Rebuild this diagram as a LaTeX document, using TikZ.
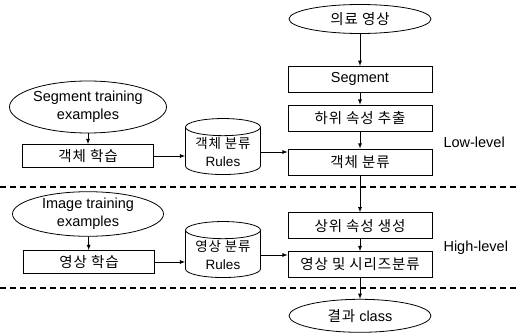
\documentclass[tikz,border=0pt]{standalone}
\usepackage{fontspec}
\setmainfont{Liberation Sans}
\newfontfamily\kr[LetterSpace=6]{Noto Sans CJK KR}
\usetikzlibrary{shapes.geometric, positioning}

\begin{document}
\begin{tikzpicture}[
          x=1pt, y=-1pt,   % pixel-like units, y downwards
          every node/.style={font=\fontsize{14.5}{18}\selectfont, align=center},
          stepbox/.style={rectangle, draw, thick, minimum width=144pt, minimum height=26pt, inner sep=1pt},
          learnbox/.style={rectangle, draw, thick, minimum width=131pt, minimum height=23pt, inner sep=1pt},
          oval/.style={ellipse, draw, thick, inner sep=0pt},
          rulebase/.style={cylinder, draw, thick, shape border rotate=90, aspect=0.3, minimum width=75pt, minimum height=56pt, inner sep=1pt, font=\fontsize{13.5}{18}\selectfont},
          level/.style={dashed, line width=1.1pt, dash pattern=on 6pt off 4pt},
          flow/.style={draw, thick, -latex}
        ]
        \useasboundingbox (0,0) rectangle (516,334);
        % main processing column
        \node[oval, minimum width=142pt, minimum height=29pt] (input) at (360,19) {\kr 의료 영상};
        \node[stepbox, below=32pt of input] (segment) {Segment};
        \node[stepbox, below=12pt of segment] (lowfeat) {\kr 하위 속성 추출};
        \node[stepbox, below=17pt of lowfeat] (objclass) {\kr 객체 분류};
        \node[stepbox, below=37pt of objclass] (highfeat) {\kr 상위 속성 생성};
        \node[stepbox, below=12pt of highfeat] (imgclass) {\kr 영상 및 시리즈분류};
        \node[oval, minimum width=142pt, minimum height=33pt, below=21pt of imgclass] (result) {{\kr 결과} class};
        % learning side
        \node[oval, minimum width=157pt, minimum height=52pt] (segtrain) at (88,107) {Segment training\\examples};
        \node[learnbox] (objlearn) at (88,156) {\kr 객체 학습};
        \node[rulebase] (objrules) at (223,152) {{\kr 객체 분류}\\Rules};
        \node[oval, minimum width=151pt, minimum height=44pt] (imgtrain) at (88,214) {Image training\\examples};
        \node[learnbox] (imglearn) at (89,262) {\kr 영상 학습};
        \node[rulebase] (imgrules) at (223,255) {{\kr 영상 분류}\\Rules};
        % level labels
        \node[anchor=west] (lowlabel) at (440,142) {Low-level};
        \node[anchor=west] (highlabel) at (440,248) {High-level};
        % level separators
        \coordinate (sepA) at (0,187);
        \coordinate (sepB) at (0,288);
        \draw[level] (sepA) -- ++(516,0);
        \draw[level] (sepB) -- ++(516,0);
        % connectors
        \draw[flow] (input) -- (segment);
        \draw[flow] (segment) -- (lowfeat);
        \draw[flow] (lowfeat) -- (objclass);
        \draw[flow] (objclass) -- (highfeat);
        \draw[flow] (highfeat) -- (imgclass);
        \draw[flow] (imgclass) -- (result);
        \draw[flow] (segtrain) -- (objlearn);
        \draw[flow] (imgtrain) -- (imglearn);
        \draw[flow] (objlearn.east) -- (objlearn.east -| objrules.west);
        \draw[flow] (imglearn.east) -- (imglearn.east -| imgrules.west);
        \draw[flow] (objrules.east) -- (objrules.east -| objclass.west);
        \draw[flow] (imgrules.east) -- (imgrules.east -| imgclass.west);
        \end{tikzpicture}
\end{document}
